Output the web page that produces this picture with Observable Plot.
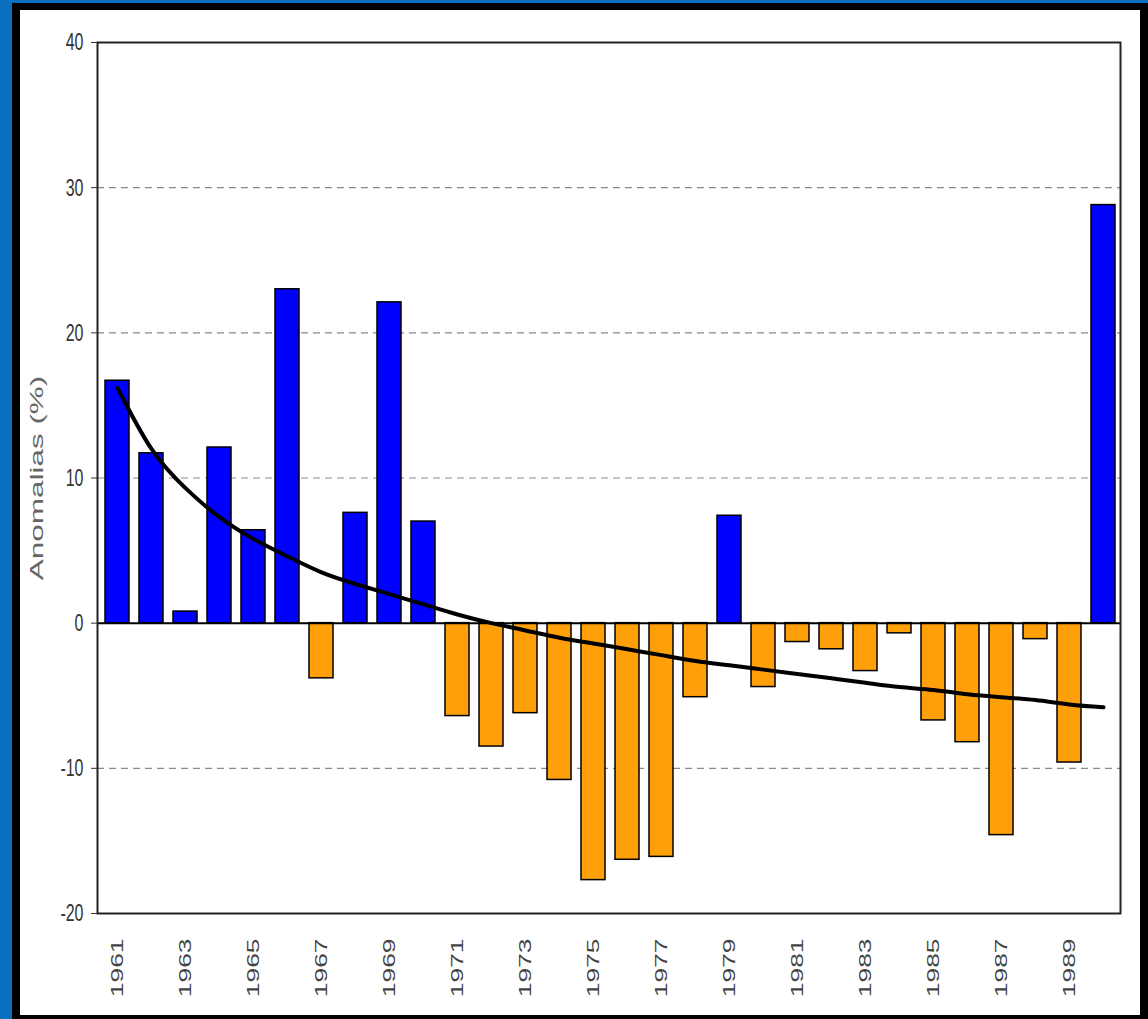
<!DOCTYPE html>
<html><head><meta charset="utf-8">
<script src="https://cdn.jsdelivr.net/npm/d3@7"></script>
<script src="https://cdn.jsdelivr.net/npm/@observablehq/plot@0.6"></script>
<style>
html,body{margin:0;padding:0;background:#0a6fbe;width:1148px;height:1019px;overflow:hidden;}
#frame{position:absolute;left:12px;top:3px;width:1136px;height:1016px;background:#000;}
#panel{position:absolute;left:20px;top:10px;width:1120px;height:1005px;background:#fff;}
</style></head><body>
<div id="frame"></div><div id="panel"></div>
<script>
const years = [1961,1962,1963,1964,1965,1966,1967,1968,1969,1970,1971,1972,1973,1974,1975,1976,1977,1978,1979,1980,1981,1982,1983,1984,1985,1986,1987,1988,1989,1990];
const anomalies = [16.7,11.7,0.8,12.1,6.4,23.0,-3.8,7.6,22.1,7.0,-6.4,-8.5,-6.2,-10.8,-17.7,-16.3,-16.1,-5.1,7.4,-4.4,-1.3,-1.8,-3.3,-0.7,-6.7,-8.2,-14.6,-1.1,-9.6,28.8];
const trend = [16.2,12.0,9.3,7.3,5.8,4.6,3.5,2.7,2.0,1.3,0.6,0.0,-0.5,-1.0,-1.4,-1.8,-2.2,-2.6,-2.9,-3.2,-3.5,-3.8,-4.1,-4.4,-4.6,-4.9,-5.1,-5.3,-5.6,-5.8];
const yTicks = [-20,-10,0,10,20,30,40];
const gridValues = [30,20,10,-10];
const xTickYears = [1961,1963,1965,1967,1969,1971,1973,1975,1977,1979,1981,1983,1985,1987,1989];
const yLabel = "Anomalias (%)";

const data = years.map((year,i)=>({year, value: anomalies[i], trend: trend[i]}));
const chart = Plot.plot({
  width:1120, height:1005, marginLeft:77, marginRight:20, marginTop:32, marginBottom:102,
  style:{fontFamily:"Liberation Sans, Arial, sans-serif", fontSize:"16px", color:"#333", background:"transparent"},
  x:{type:"band", domain: years, paddingInner:0.3, paddingOuter:0.15, insetLeft:3, label:null},
  y:{domain:[-20,40], label:null},
  marks:[
    Plot.ruleY(gridValues,{stroke:"#8a8a8a", strokeWidth:1.2, strokeDasharray:"7,5"}),
    Plot.barY(data,{x:"year", y:"value", fill: d=> d.value>=0 ? "#0000ff":"#ffa00a", stroke:"#000", strokeWidth:1.5}),
    Plot.ruleY([0],{stroke:"#000", strokeWidth:2}),
    Plot.line(data,{x:"year", y:"trend", curve:"natural", stroke:"#000", strokeWidth:4}),
    Plot.frame({stroke:"#222", strokeWidth:2}),
    Plot.axisY(yTicks,{tickSize:6, tickPadding:8, fontSize:16, tickFormat: d => String(d)}),
    Plot.axisX(xTickYears,{tickSize:0, tickPadding:25, tickRotate:-90, fontSize:16, fill:"#444", tickFormat: d => String(d)}),
    Plot.text([yLabel],{frameAnchor:"left", textAnchor:"middle", dx:-60, rotate:-90, fontSize:18, fill:"#666"})
  ]
});
chart.style.position = "absolute";
chart.style.left = "20px";
chart.style.top = "10px";
document.body.appendChild(chart);
const svg = chart.tagName.toLowerCase() === "svg" ? chart : chart.querySelector("svg");
function stretch(sel, sx, sy){
  svg.querySelectorAll(sel).forEach(t=>{
    const tr = t.getAttribute("transform");
    if (tr) t.setAttribute("transform", tr + ` scale(${sx},${sy})`);
    else {
      const x = +(t.getAttribute("x")||0), y = +(t.getAttribute("y")||0);
      t.setAttribute("transform", `translate(${x},${y}) scale(${sx},${sy}) translate(${-x},${-y})`);
    }
  });
}
stretch('g[aria-label="y-axis tick label"] text', 1, 1.55);
stretch('g[aria-label="x-axis tick label"] text', 1.65, 1);
stretch('g[aria-label="text"] text', 1.75, 1);
</script>
</body></html>
